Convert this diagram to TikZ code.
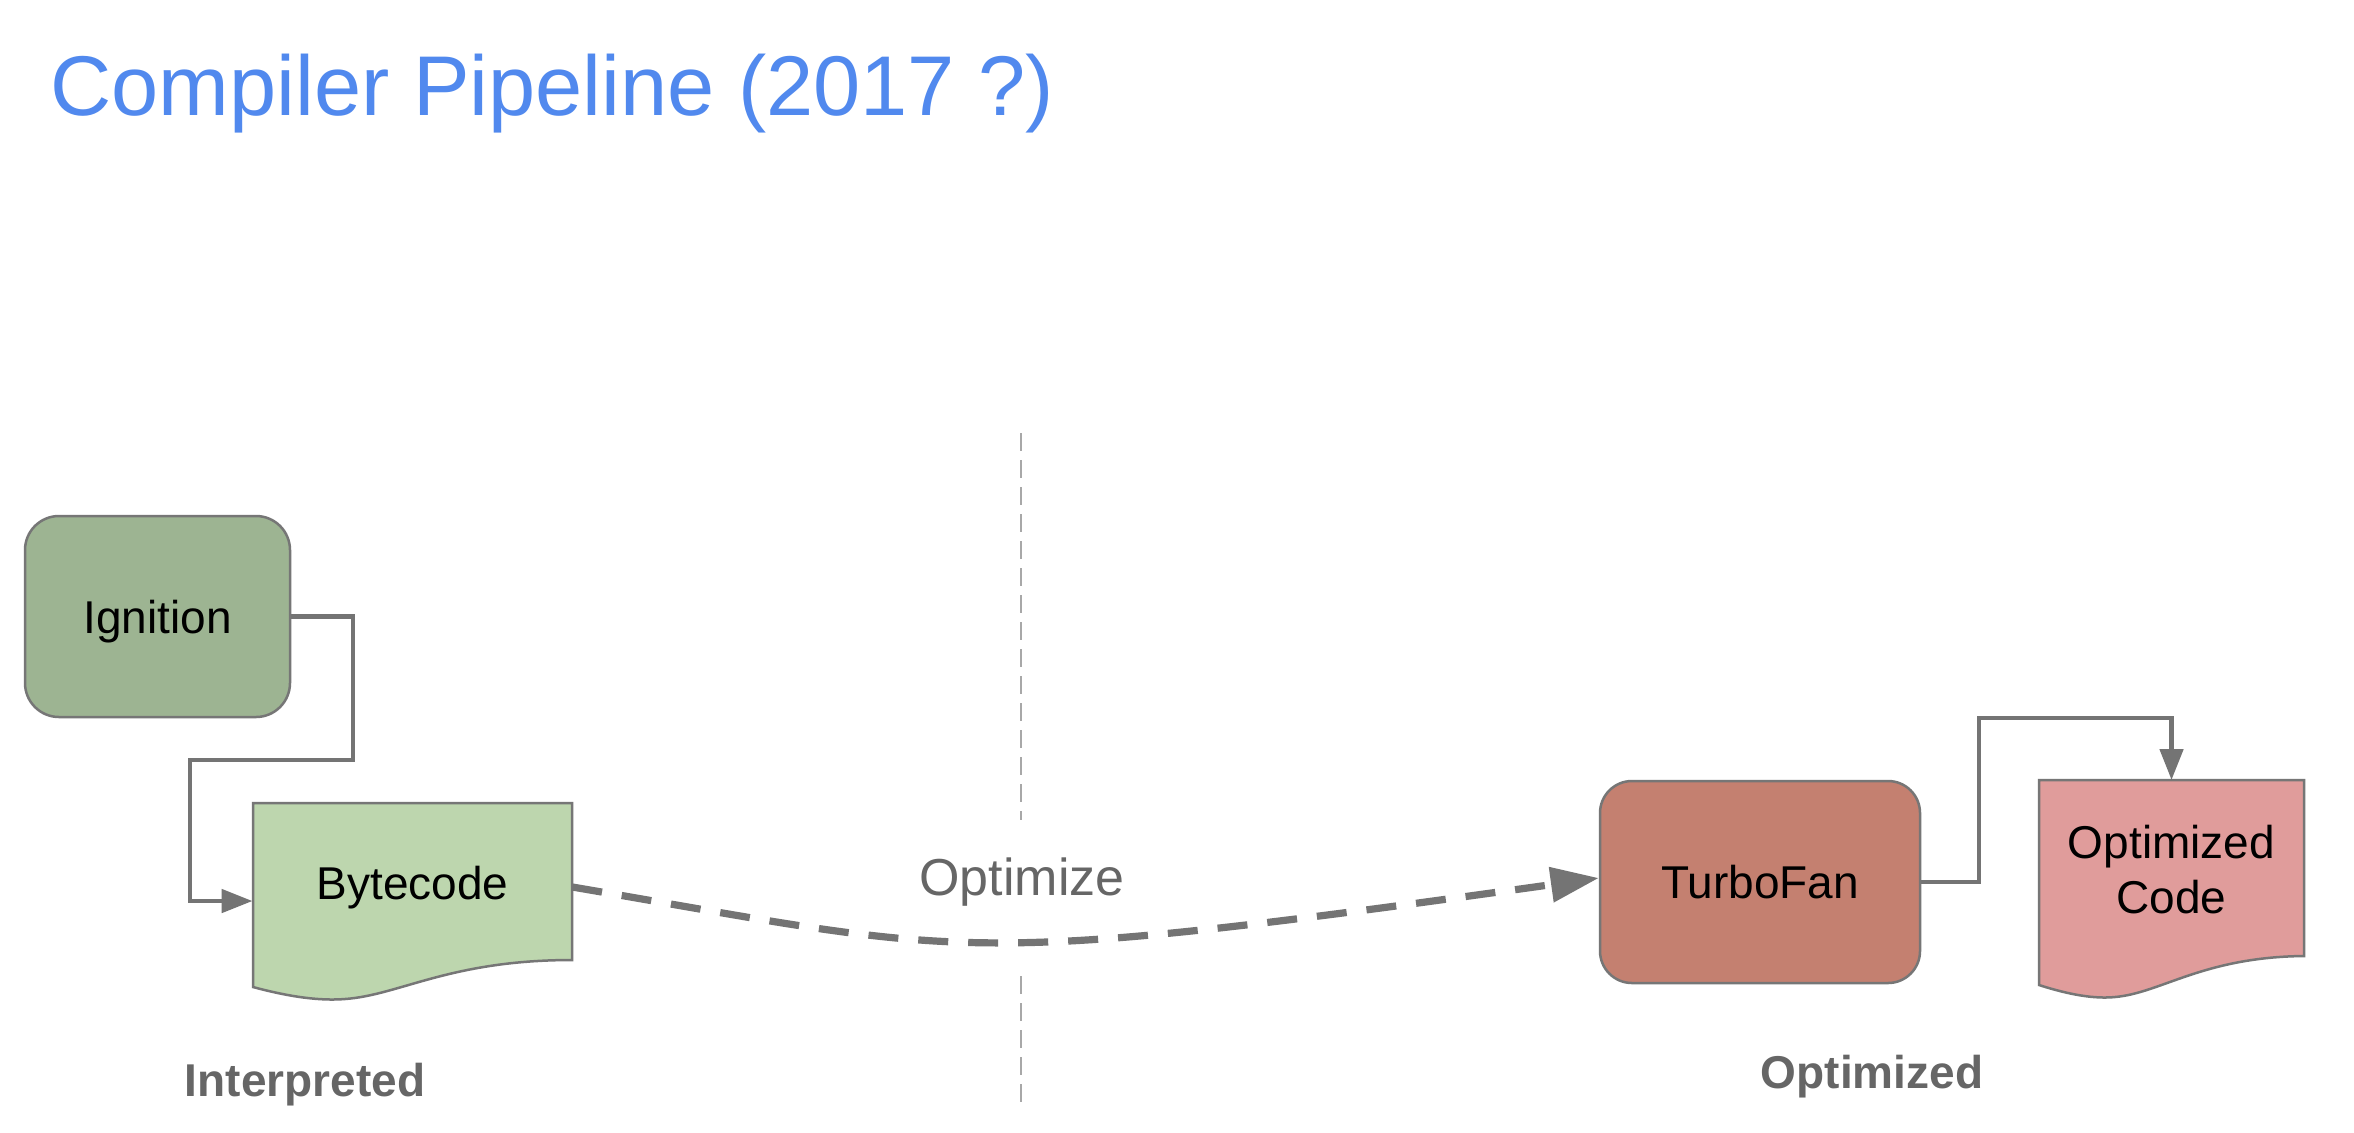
\documentclass[tikz,border=0pt]{standalone}
\usepackage{fontspec}
\setmainfont{Liberation Sans}
\usetikzlibrary{arrows.meta}
\definecolor{titleblue}{HTML}{5189EE}
\definecolor{ignfill}{HTML}{9DB492}
\definecolor{bytefill}{HTML}{BDD6AE}
\definecolor{tffill}{HTML}{C48070}
\definecolor{ocfill}{HTML}{E09C9B}
\definecolor{edgegray}{HTML}{767676}
\definecolor{connGray}{HTML}{747474}
\definecolor{divgray}{HTML}{A8A8A8}
\definecolor{lblgray}{HTML}{666666}
\tikzset{
  boxtext/.style={font=\fontsize{23pt}{27.5pt}\selectfont, text=black, text height=16.5pt, text depth=0pt, inner sep=0pt},
  procbox/.style={boxtext, draw=edgegray, line width=1.25pt, rounded corners=17pt},
  docbox/.style={boxtext, draw=none},
  docshape/.style={draw=edgegray, line width=1.25pt},
  conn/.style={draw=connGray, line width=2.4pt, -{Triangle[length=15.5pt,width=11.5pt]}},
  optarrow/.style={draw=connGray, line width=3.6pt, dash pattern=on 15pt off 10pt, -{Triangle[length=24pt,width=17pt]}},
  divider/.style={draw=divgray, line width=1pt, dash pattern=on 9pt off 4.5pt},
  sectlbl/.style={font=\fontsize{23pt}{27pt}\selectfont\bfseries, text=lblgray, inner sep=0pt},
}
\begin{document}
\begin{tikzpicture}[x=0.5pt, y=-0.5pt]
\useasboundingbox (0,0) rectangle (2354,1132);
\fill[white] (0,0) rectangle (2354,1132);

% title
\node[anchor=base west, inner sep=0pt, text=titleblue, font=\fontsize{42.4pt}{50pt}\selectfont] (title) at (50,115) {Compiler Pipeline (2017 ?)};

% vertical divider
\coordinate (d1) at (1021,433);
\coordinate (d2) at (1021,820);
\coordinate (d3) at (1021,976);
\coordinate (d4) at (1021,1105);
\draw[divider] (d1) -- (d2);
\draw[divider] (d3) -- (d4);

% Ignition
\node[procbox, fill=ignfill, minimum width=132.5pt, minimum height=100.5pt] (ign) at (157.5,616.5) {Ignition};

% Bytecode document
\draw[docshape, fill=bytefill] (253,803) -- (572,803) -- (572,960)
  .. controls (450,960) and (400,995) .. (345,999)
  .. controls (320,1001) and (290,997) .. (253,987) -- cycle;
\node[docbox, minimum width=159.5pt, minimum height=79pt] (byte) at (412.5,883) {Bytecode};

% TurboFan
\node[procbox, fill=tffill, minimum width=160pt, minimum height=101pt, rounded corners=16pt] (tf) at (1760,882) {TurboFan};

% Optimized Code document
\draw[docshape, fill=ocfill] (2039,780) -- (2304,780) -- (2304,956)
  .. controls (2203,957) and (2161,993) .. (2115,997)
  .. controls (2095,999) and (2070,995) .. (2039,985) -- cycle;
\node[docbox, text height=, text depth=, align=center, minimum width=132.5pt, minimum height=88pt] (oc) at (2171.5,870) {Optimized\\Code};

% connectors
\draw[conn] (ign.east) -| (353,760) -| (190,901) -- ([yshift=-9pt]byte.west);
\draw[conn] (tf.east) -| (1979,718) -| (oc.north |- 0,780);

\draw[optarrow] ([yshift=-2pt]byte.east) .. controls (972,955) and (950,968.7) .. ([yshift=2pt]tf.west);

% labels
\node[anchor=base, inner sep=0pt, text=lblgray, font=\fontsize{26pt}{30pt}\selectfont] (optlbl) at (1022,895) {Optimize};
\node[sectlbl, anchor=base] (interp) at (305,1096) {Interpreted};
\node[sectlbl, anchor=base] (optim) at (1872,1088) {Optimized};
\end{tikzpicture}
\end{document}
